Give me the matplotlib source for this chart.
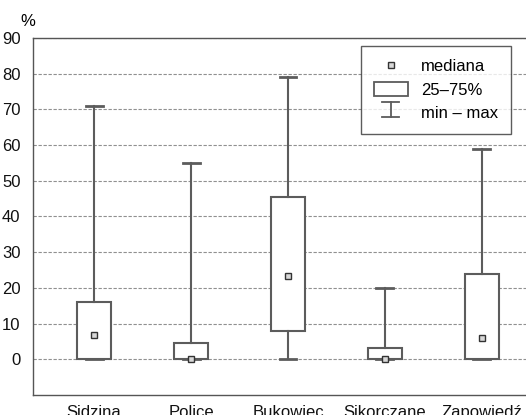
import matplotlib
matplotlib.use('Agg')
import matplotlib.pyplot as plt
from matplotlib.lines import Line2D
from matplotlib.patches import Rectangle
from matplotlib.legend_handler import HandlerBase

plt.rcParams['font.family'] = ['Liberation Sans', 'DejaVu Sans']

# Dane
miejsca = ['Sidzina', 'Police', 'Bukowiec', 'Sikorczane', 'Zapowiedź']
minimum = [0, 0, 0, 0, 0]
kw25 = [0, 0, 8, 0, 0]
mediana = [6.8, 0, 23.4, 0, 6.1]
kw75 = [16, 4.6, 45.4, 3.2, 24]
maksimum = [71, 55, 79, 20, 59]

szary = '#5c5c5c'

fig = plt.figure(figsize=(5.26, 4.15), dpi=100)
ax = fig.add_axes([33 / 526, 20 / 415, 510 / 526, 357 / 415])

stats = []
for i in range(len(miejsca)):
    stats.append(dict(whislo=minimum[i], q1=kw25[i], med=mediana[i],
                      q3=kw75[i], whishi=maksimum[i], fliers=[]))

pos = list(range(1, len(miejsca) + 1))
ax.bxp(stats, positions=pos, widths=0.35, capwidths=0.175, patch_artist=True,
       showfliers=False,
       boxprops=dict(facecolor='white', edgecolor=szary, linewidth=1.5),
       whiskerprops=dict(color=szary, linewidth=1.5),
       capprops=dict(color=szary, linewidth=2),
       medianprops=dict(linewidth=0), zorder=3)

ax.plot(pos, mediana, linestyle='none', marker='s', markersize=5,
        markerfacecolor='#d8d8d8', markeredgecolor='#333333',
        markeredgewidth=1, zorder=4)

# Osie
ax.set_xlim(0.37, 5.63)
ax.set_ylim(-10, 90)
ax.set_yticks(range(0, 91, 10))
ax.set_xticks(pos)
ax.set_xticklabels(miejsca)
ax.tick_params(axis='both', length=0, labelsize=12, colors='#111111')
ax.tick_params(axis='y', pad=9)
ax.tick_params(axis='x', pad=7)
ax.grid(axis='y', color='#909090', linestyle=(0, (3, 1.5)), linewidth=0.8)
ax.set_axisbelow(True)
for s in ax.spines.values():
    s.set_color('#555555')
    s.set_linewidth(1)

fig.text(20 / 526, 1 - 21 / 415, '%', fontsize=12, ha='left', va='center')


# Legenda
class HandlerMinMax(HandlerBase):
    def create_artists(self, legend, orig, xd, yd, w, h, fontsize, trans):
        cx = xd + w / 2
        cw = w * 0.25
        l1 = Line2D([cx, cx], [yd, yd + h], color=szary, lw=1.3, transform=trans)
        l2 = Line2D([cx - cw, cx + cw], [yd + h, yd + h], color=szary, lw=1.3, transform=trans)
        l3 = Line2D([cx - cw, cx + cw], [yd, yd], color=szary, lw=1.3, transform=trans)
        return [l1, l2, l3]


h_med = Line2D([], [], linestyle='none', marker='s', markersize=5,
               markerfacecolor='#d8d8d8', markeredgecolor='#333333', markeredgewidth=1)
h_box = Rectangle((0, 0), 1, 1, facecolor='white', edgecolor=szary, linewidth=1.3)
h_mm = Line2D([], [])

leg = fig.legend([h_med, h_box, h_mm], ['mediana', '25–75%', 'min – max'],
                 handler_map={h_mm: HandlerMinMax()},
                 loc='upper left', bbox_to_anchor=(361 / 526, 1 - 46 / 415),
                 fontsize=12, frameon=True, fancybox=False, borderaxespad=0,
                 handlelength=2.05, handleheight=0.95, labelspacing=0.45,
                 handletextpad=0.8, borderpad=0.75)
leg.get_frame().set_edgecolor('#333333')
leg.get_frame().set_linewidth(1)

fig.savefig('out.png', dpi=100)
